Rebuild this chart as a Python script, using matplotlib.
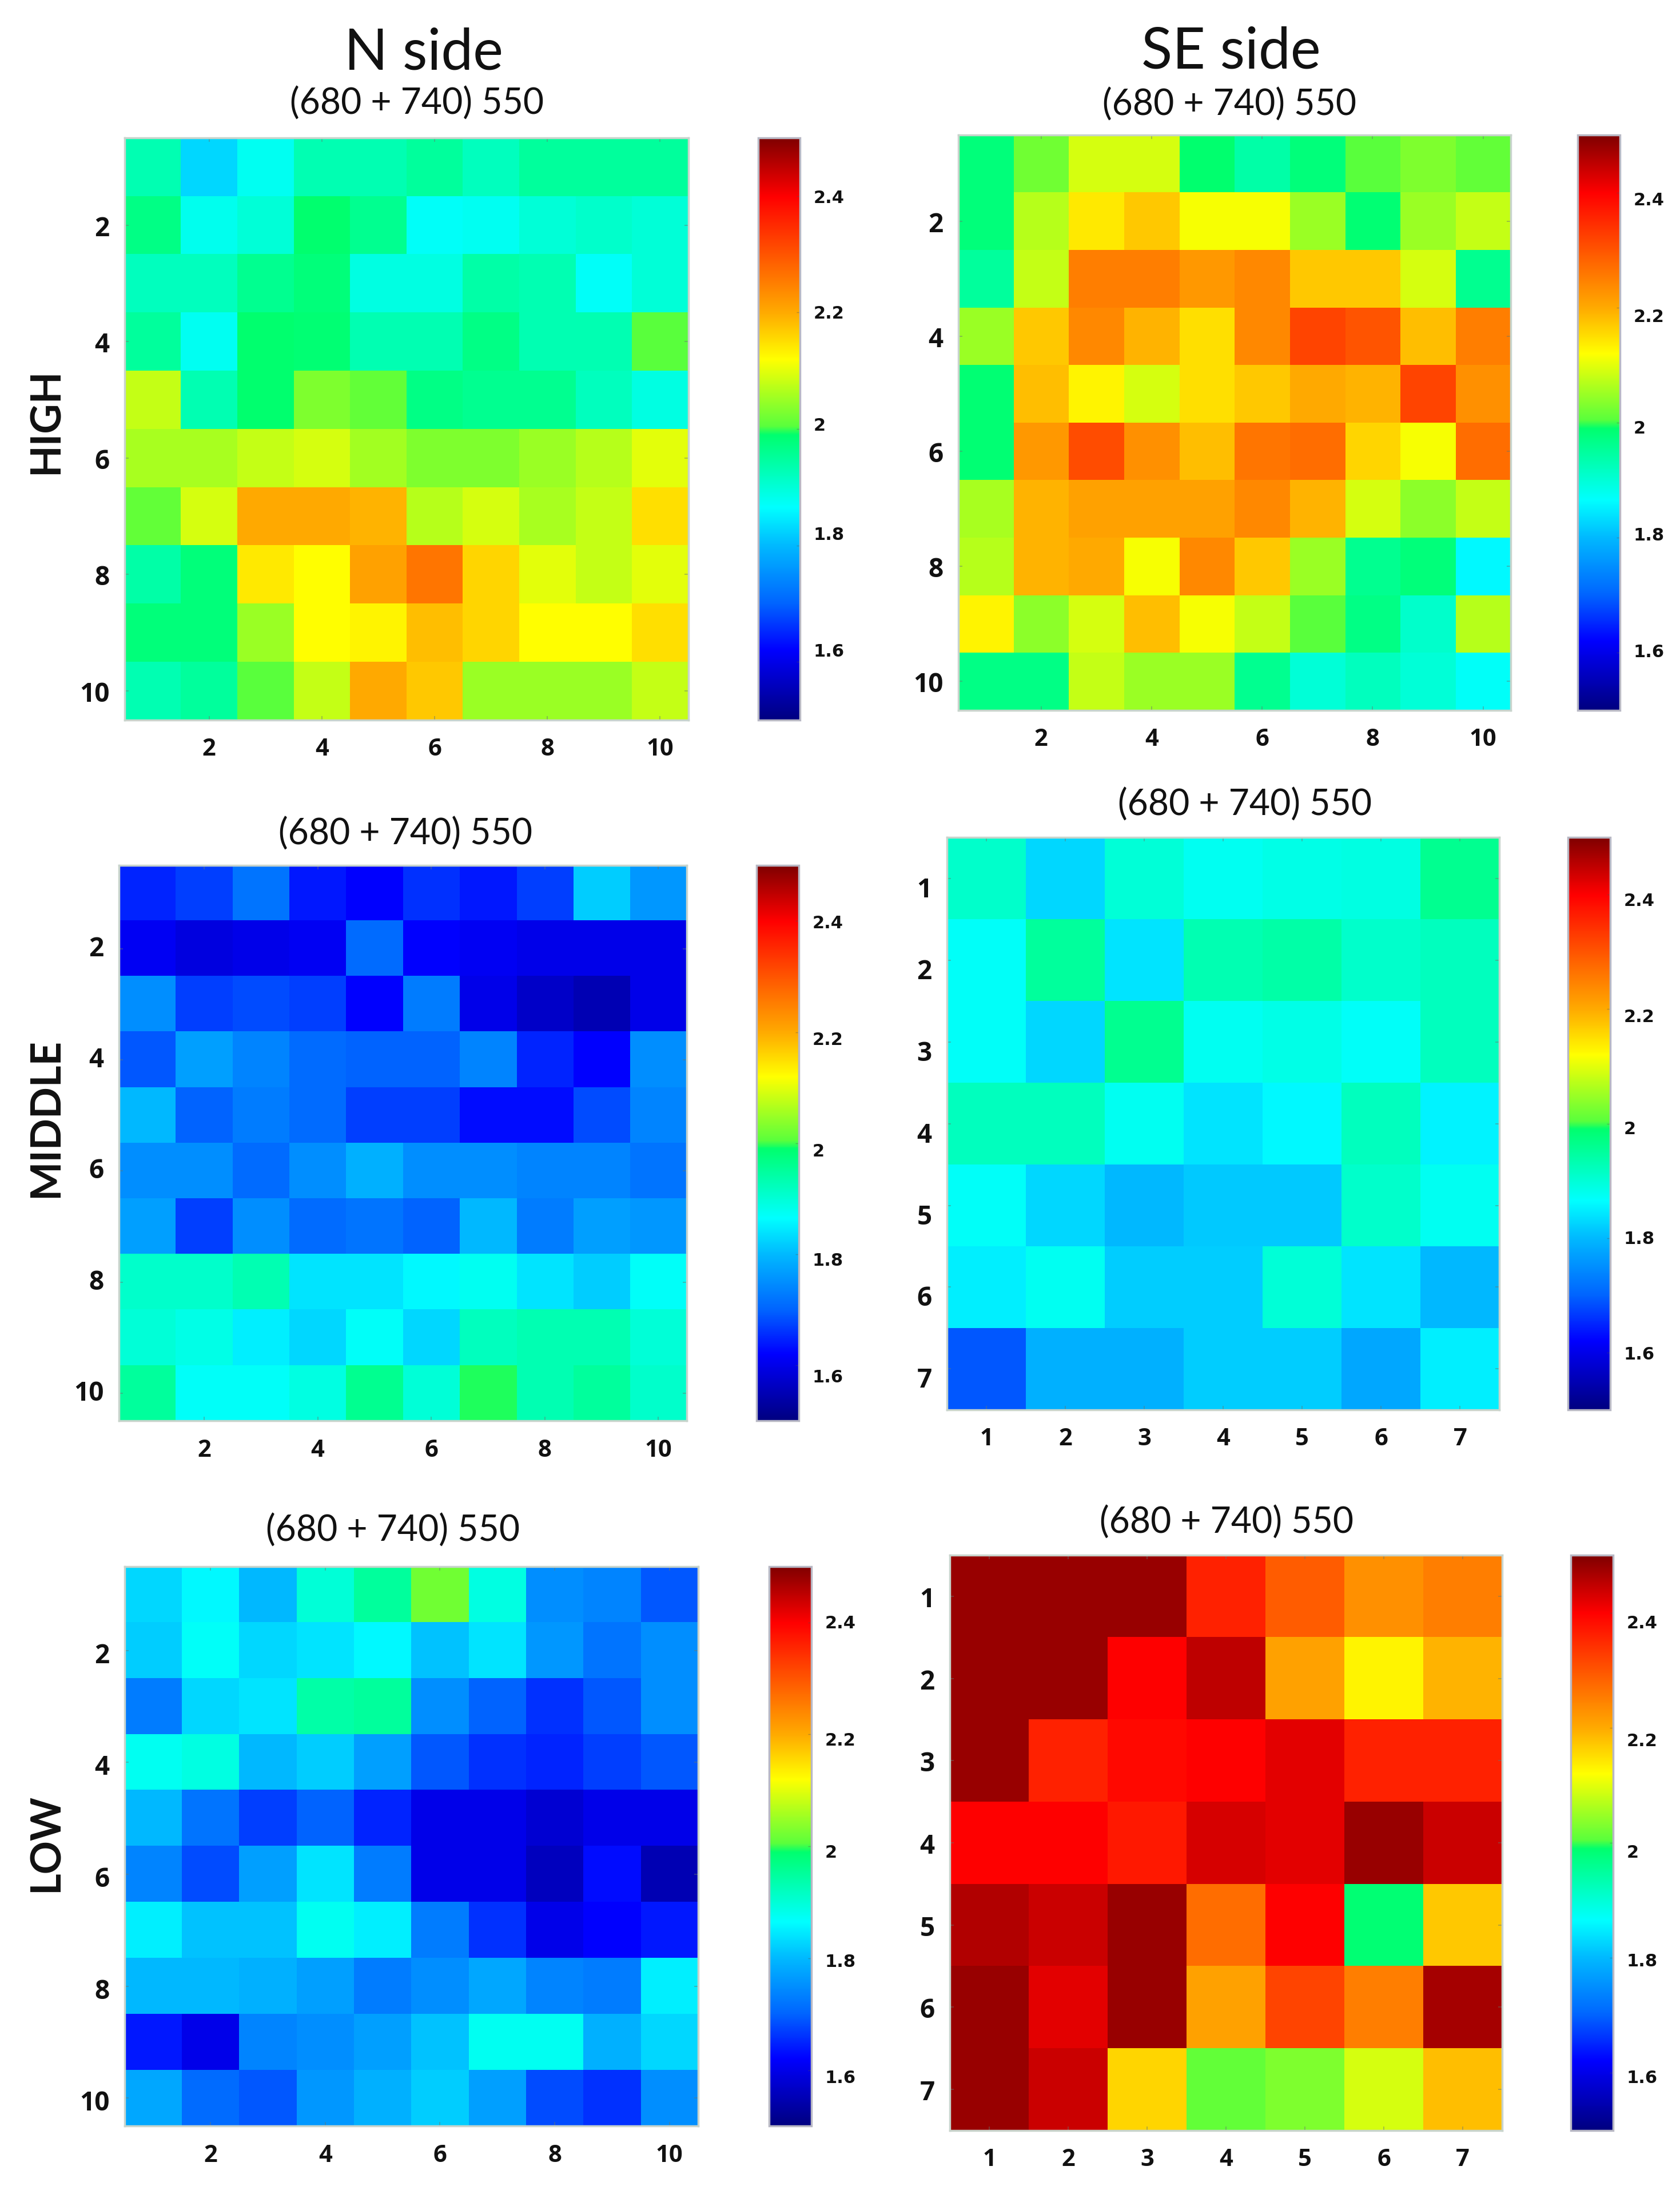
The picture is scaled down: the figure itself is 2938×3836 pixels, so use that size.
import numpy as np
import matplotlib
matplotlib.use("Agg")
import matplotlib.pyplot as plt
from matplotlib.colors import LinearSegmentedColormap, Normalize
from matplotlib.cm import ScalarMappable
from matplotlib.transforms import ScaledTranslation

plt.rcParams['font.family'] = ['Lato', 'DejaVu Sans']

W, H = 2938, 3837
S = W / 1201.0

high_n = [
 [1.93,1.83,1.875,1.93,1.93,1.95,1.92,1.95,1.95,1.95],
 [1.97,1.88,1.90,1.99,1.96,1.87,1.875,1.90,1.91,1.90],
 [1.92,1.92,1.96,1.98,1.89,1.89,1.94,1.93,1.87,1.90],
 [1.95,1.875,1.99,1.985,1.93,1.93,1.97,1.93,1.93,2.005],
 [2.08,1.93,1.99,2.03,2.01,1.97,1.96,1.96,1.92,1.89],
 [2.06,2.06,2.08,2.09,2.055,2.03,2.03,2.05,2.07,2.10],
 [2.01,2.09,2.20,2.20,2.19,2.07,2.09,2.06,2.08,2.15],
 [1.94,1.98,2.14,2.12,2.21,2.26,2.16,2.10,2.08,2.10],
 [1.98,1.98,2.05,2.12,2.13,2.18,2.16,2.12,2.12,2.15],
 [1.93,1.95,2.005,2.08,2.20,2.17,2.05,2.05,2.05,2.08],
]
high_se = [
 [1.98,2.02,2.09,2.09,1.99,1.94,1.98,2.005,2.03,2.01],
 [1.98,2.07,2.14,2.17,2.115,2.115,2.05,1.985,2.05,2.08],
 [1.95,2.08,2.25,2.25,2.22,2.24,2.17,2.17,2.09,1.96],
 [2.05,2.17,2.24,2.19,2.15,2.24,2.32,2.30,2.18,2.25],
 [1.985,2.18,2.13,2.09,2.15,2.17,2.20,2.19,2.32,2.23],
 [1.985,2.22,2.31,2.23,2.18,2.26,2.27,2.16,2.115,2.27],
 [2.06,2.19,2.21,2.21,2.21,2.24,2.19,2.09,2.04,2.08],
 [2.07,2.19,2.20,2.115,2.24,2.17,2.05,1.96,1.98,1.86],
 [2.13,2.04,2.09,2.18,2.115,2.08,2.005,1.97,1.91,2.07],
 [1.97,1.97,2.08,2.05,2.05,1.96,1.90,1.92,1.90,1.87],
]
middle_n = [
 [1.65,1.67,1.72,1.64,1.62,1.66,1.64,1.67,1.82,1.76],
 [1.61,1.59,1.60,1.61,1.71,1.62,1.61,1.60,1.60,1.60],
 [1.75,1.67,1.68,1.67,1.62,1.73,1.60,1.57,1.55,1.60],
 [1.69,1.77,1.74,1.71,1.70,1.70,1.74,1.65,1.62,1.75],
 [1.80,1.70,1.73,1.71,1.67,1.67,1.63,1.63,1.68,1.74],
 [1.75,1.75,1.71,1.75,1.79,1.75,1.75,1.74,1.74,1.72],
 [1.77,1.67,1.75,1.71,1.72,1.70,1.80,1.73,1.77,1.76],
 [1.91,1.91,1.93,1.84,1.84,1.86,1.875,1.84,1.82,1.87],
 [1.90,1.885,1.85,1.83,1.87,1.83,1.92,1.93,1.93,1.90],
 [1.95,1.87,1.87,1.89,1.96,1.90,1.995,1.93,1.95,1.91],
]
middle_se = [
 [1.91,1.83,1.90,1.875,1.885,1.89,1.96],
 [1.87,1.95,1.84,1.93,1.94,1.91,1.92],
 [1.87,1.83,1.96,1.875,1.885,1.87,1.92],
 [1.92,1.92,1.875,1.84,1.86,1.92,1.855],
 [1.87,1.83,1.80,1.815,1.815,1.91,1.875],
 [1.85,1.875,1.82,1.82,1.90,1.84,1.80],
 [1.69,1.79,1.79,1.82,1.82,1.78,1.85],
]
low_n = [
 [1.83,1.86,1.80,1.90,1.95,2.02,1.89,1.75,1.74,1.69],
 [1.82,1.87,1.83,1.84,1.86,1.81,1.84,1.76,1.72,1.75],
 [1.73,1.83,1.84,1.94,1.95,1.75,1.70,1.66,1.69,1.75],
 [1.875,1.89,1.80,1.82,1.77,1.69,1.66,1.65,1.67,1.69],
 [1.80,1.72,1.67,1.70,1.65,1.60,1.60,1.58,1.60,1.60],
 [1.74,1.68,1.77,1.84,1.73,1.60,1.60,1.56,1.63,1.55],
 [1.85,1.81,1.81,1.875,1.85,1.73,1.66,1.60,1.62,1.64],
 [1.80,1.80,1.79,1.77,1.73,1.75,1.78,1.74,1.73,1.85],
 [1.64,1.60,1.74,1.75,1.77,1.81,1.875,1.875,1.79,1.83],
 [1.78,1.71,1.69,1.76,1.79,1.82,1.77,1.68,1.66,1.75],
]
low_se = [
 [2.48,2.48,2.48,2.36,2.29,2.23,2.25],
 [2.48,2.48,2.40,2.45,2.21,2.13,2.19],
 [2.48,2.36,2.39,2.40,2.42,2.36,2.36],
 [2.40,2.40,2.37,2.43,2.42,2.48,2.44],
 [2.46,2.44,2.48,2.27,2.40,1.985,2.17],
 [2.48,2.42,2.48,2.21,2.32,2.25,2.47],
 [2.48,2.44,2.16,2.01,2.03,2.09,2.18],
]
cbar_ticks = [1.6, 1.8, 2.0, 2.2, 2.4]
cbar_labels = ['1.6', '1.8', '2', '2.2', '2.4']
sub_title = '(680 + 740) 550'

VMIN, VMAX = 1.5, 2.5
stops = [(1.5,(0,0,128)),(1.62,(0,0,255)),(1.70,(0,100,255)),(1.8,(0,185,255)),(1.865,(0,255,255)),
         (1.99,(0,255,110)),(2.005,(90,255,60)),(2.12,(255,255,0)),(2.2,(255,170,0)),
         (2.4,(255,0,0)),(2.5,(128,0,0))]
cmap = LinearSegmentedColormap.from_list('c', [((v-VMIN)/(VMAX-VMIN), tuple(c/255 for c in rgb)) for v, rgb in stops], N=512)
norm = Normalize(VMIN, VMAX)

fig = plt.figure(figsize=(W/100, H/100), dpi=100)

def box(x0, y0, x1, y1):
    return [x0*S/W, 1-y1*S/H, (x1-x0)*S/W, (y1-y0)*S/H]

def px(x, y):
    return x*S/W, 1-y*S/H

EDGE = '#c8d4cc'

def panel(data, ab, cb, ticks, cb_shift, ytick_up=0):
    ax = fig.add_axes(box(*ab))
    arr = np.array(data)
    n = arr.shape[0]
    ax.imshow(arr, cmap=cmap, norm=norm, aspect='auto', interpolation='nearest',
              extent=(0.5, n+0.5, n+0.5, 0.5))
    ax.set_xticks(ticks); ax.set_yticks(ticks)
    ax.set_xticklabels([str(t) for t in ticks], fontsize=30, fontweight='bold', color='#111111', family='Open Sans')
    ax.set_yticklabels([str(t) for t in ticks], fontsize=33, fontweight='bold', color='#111111', family='Open Sans')
    ax.tick_params(axis='x', direction='in', length=5, width=1.2, color='#66777088', pad=22, top=True)
    ax.tick_params(axis='y', direction='in', length=5, width=1.2, color='#66777088', pad=19, right=True)
    if ytick_up:
        off = ScaledTranslation(0, ytick_up/100, fig.dpi_scale_trans)
        for lab in ax.get_yticklabels():
            lab.set_transform(lab.get_transform() + off)
    for sp in ax.spines.values():
        sp.set_color(EDGE); sp.set_linewidth(2.5)
    cax = fig.add_axes(box(*cb))
    cbar = fig.colorbar(ScalarMappable(norm=norm, cmap=cmap), cax=cax)
    cbar.set_ticks(cbar_ticks)
    cbar.set_ticklabels(cbar_labels, fontsize=22, fontweight='bold', color='#111111', family='DejaVu Sans')
    cbar.ax.tick_params(direction='in', length=4, width=1, color='#55555566', pad=17)
    cbar.outline.set_edgecolor('#b8b8c4'); cbar.outline.set_linewidth(2.5)
    for lab, up in zip(cbar.ax.get_yticklabels(), cb_shift):
        lab.set_transform(lab.get_transform() + ScaledTranslation(0, up*S/100, fig.dpi_scale_trans))

t10 = [2, 4, 6, 8, 10]
t7 = [1, 2, 3, 4, 5, 6, 7]
panel(high_n,   (89, 99, 492, 515),    (542, 99, 572, 515),    t10, [9, 9, 4, 1, 0])
panel(high_se,  (685, 97, 1080, 508),  (1128, 97, 1158, 508),  t10, [2, 3, -2.5, -5, -4])
panel(middle_n, (85, 619, 491, 1016),  (541, 619, 571, 1016),  t10, [-7, -3, -4.5, -4, 0], ytick_up=6)
panel(middle_se,(677, 599, 1072, 1008),(1121, 599, 1151, 1008),t7,  [0, 1, -2.5, -4, -3], ytick_up=-14)
panel(low_n,    (89, 1120, 499, 1520), (550, 1120, 580, 1520), t10, [-4, -1, -3, -3, 1], ytick_up=-3)
panel(low_se,   (679, 1112, 1074, 1523),(1123, 1112, 1153, 1523),t7, [-2, -1, -5.5, -8, -6])

def label(x, y, s, size, **kw):
    fx, fy = px(x, y)
    fig.text(fx, fy, s, fontsize=size, ha='center', va='center', color='#111111', **kw)

label(303, 38, 'N side', 72)
label(880, 37, 'SE side', 72)
for x, y in [(298, 74), (879, 75), (290, 596), (890, 575), (281, 1094), (877, 1088)]:
    label(x, y, sub_title, 45)
label(33, 301, 'HIGH', 52, rotation=90, fontweight='bold')
label(33, 799, 'MIDDLE', 52, rotation=90, fontweight='bold')
label(33, 1317, 'LOW', 52, rotation=90, fontweight='bold')

fig.savefig('out.png', dpi=100, facecolor='white')
